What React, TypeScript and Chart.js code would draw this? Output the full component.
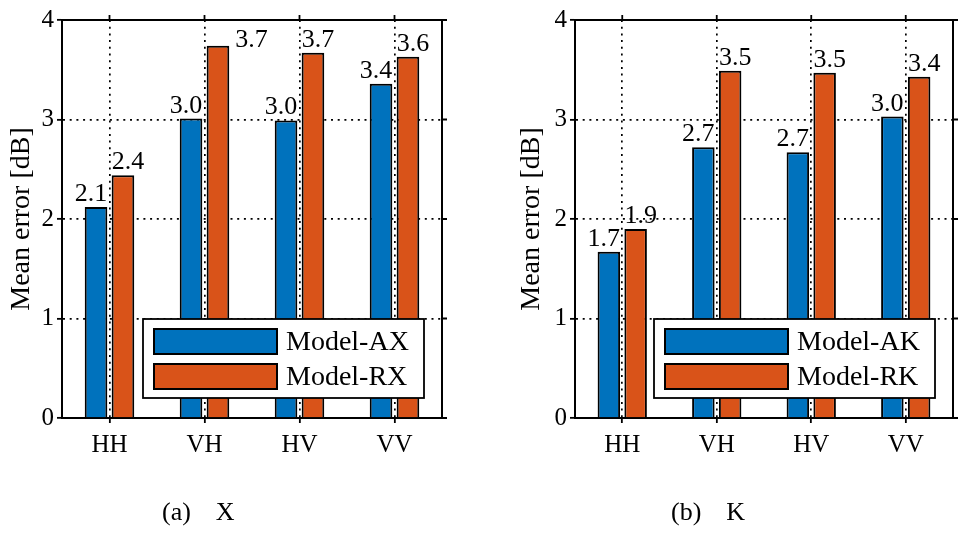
import React, { useEffect, useRef } from "react";
import { Chart, registerables } from "chart.js";

Chart.register(...registerables);

// ---------- data ----------
const categories = ["HH", "VH", "HV", "VV"];
const seriesAX = [2.12, 3.01, 2.99, 3.36];
const seriesRX = [2.44, 3.74, 3.67, 3.63];
const seriesAK = [1.67, 2.72, 2.67, 3.03];
const seriesRK = [1.9, 3.49, 3.47, 3.43];
const namesX = ["Model-AX", "Model-RX"];
const namesK = ["Model-AK", "Model-RK"];
const yTicks = [0, 1, 2, 3, 4];
const yTitle = "Mean error [dB]";
const captionsA = ["(a)", "X"];
const captionsB = ["(b)", "K"];

// ---------- style ----------
const FONT = "'Liberation Serif', 'Times New Roman', serif";
const BLUE = "#0072BD";
const ORANGE = "#D95319";
const TICK_SIZE = 25;
const LABEL_SIZE = 26;
const LEGEND_SIZE = 28;
const TITLE_SIZE = 28;

const decorPlugin = {
  id: "panelDecor",
  afterDatasetsDraw(chart: any) {
    const ctx = chart.ctx;
    const area = chart.chartArea;
    ctx.save();
    ctx.font = `${LABEL_SIZE}px ${FONT}`;
    ctx.fillStyle = "#000";
    ctx.textBaseline = "alphabetic";
    chart.data.datasets.forEach((ds: any, di: number) => {
      const meta = chart.getDatasetMeta(di);
      meta.data.forEach((el: any, i: number) => {
        const v = ds.data[i] as number;
        const text = v.toFixed(1);
        const half = el.width / 2;
        let x: number;
        let y = el.y - 6;
        if (di === 0) {
          ctx.textAlign = "right";
          x = el.x + half;
        } else {
          ctx.textAlign = "left";
          x = el.x - half;
        }
        if (y - LABEL_SIZE * 0.7 < area.top + 4) {
          ctx.textAlign = "left";
          x = el.x + half + 6;
          y = el.y + 1;
        }
        ctx.fillText(text, x, y);
      });
    });
    ctx.restore();
  },
  afterDraw(chart: any) {
    const ctx = chart.ctx;
    const area = chart.chartArea;
    const xs = chart.scales.x;
    const ys = chart.scales.y;
    ctx.save();
    ctx.strokeStyle = "#000";
    ctx.lineWidth = 2;
    ctx.setLineDash([]);
    // top and right frame
    ctx.beginPath();
    ctx.moveTo(area.left, area.top);
    ctx.lineTo(area.right, area.top);
    ctx.lineTo(area.right, area.bottom);
    ctx.stroke();
    // top ticks
    ctx.lineWidth = 1.8;
    ctx.beginPath();
    for (let i = 0; i < chart.data.labels.length; i++) {
      const px = xs.getPixelForValue(i);
      ctx.moveTo(px, area.top);
      ctx.lineTo(px, area.top - 5);
    }
    // right ticks
    yTicks.forEach((v) => {
      const py = ys.getPixelForValue(v);
      ctx.moveTo(area.right, py);
      ctx.lineTo(area.right + 5, py);
    });
    ctx.stroke();

    // legend
    const bw = 281;
    const bh = 79;
    const bx = area.right - 18 - bw;
    const by = area.bottom - 20 - bh;
    ctx.fillStyle = "#fff";
    ctx.fillRect(bx, by, bw, bh);
    ctx.lineWidth = 1.8;
    ctx.strokeRect(bx, by, bw, bh);
    ctx.font = `${LEGEND_SIZE}px ${FONT}`;
    ctx.textBaseline = "middle";
    ctx.textAlign = "left";
    chart.data.datasets.forEach((ds: any, di: number) => {
      const sy = by + 10 + di * 35;
      ctx.fillStyle = ds.backgroundColor;
      ctx.fillRect(bx + 11, sy, 123, 25);
      ctx.lineWidth = 2;
      ctx.strokeStyle = "#000";
      ctx.strokeRect(bx + 11, sy, 123, 25);
      ctx.fillStyle = "#000";
      ctx.fillText(ds.label, bx + 143, sy + 13.5);
    });
    ctx.restore();
  },
};

function makeConfig(a: number[], b: number[], names: string[], padLeft: number, padRight: number, titlePad: number): any {
  return {
    type: "bar",
    data: {
      labels: categories,
      datasets: [
        { label: names[0], data: a, backgroundColor: BLUE, borderColor: "#000", borderWidth: 2 },
        { label: names[1], data: b, backgroundColor: ORANGE, borderColor: "#000", borderWidth: 2 },
      ],
    },
    options: {
      responsive: false,
      animation: false,
      layout: { padding: { left: padLeft, right: padRight, top: 20, bottom: 0 } },
      datasets: { bar: { categoryPercentage: 0.567, barPercentage: 0.84 } },
      plugins: { legend: { display: false }, tooltip: { enabled: false }, title: { display: false } },
      scales: {
        x: {
          offset: true,
          grid: {
            offset: false,
            color: "#000",
            lineWidth: 1.7,
            drawTicks: true,
            tickLength: 5,
            tickColor: "#000",
            tickWidth: 1.8,
            tickBorderDash: [],
          },
          border: { display: true, color: "#000", width: 2, dash: [2, 4.7] },
          ticks: { color: "#000", font: { family: FONT, size: TICK_SIZE }, padding: 7, maxRotation: 0 },
          afterFit(scale: any) {
            scale.height = 539 - 418;
          },
        },
        y: {
          min: 0,
          max: 4,
          afterBuildTicks(scale: any) {
            scale.ticks = yTicks.map((v) => ({ value: v }));
          },
          grid: {
            color: "#000",
            lineWidth: 1.7,
            drawTicks: true,
            tickLength: 5,
            tickColor: "#000",
            tickWidth: 1.8,
            tickBorderDash: [],
          },
          border: { display: true, color: "#000", width: 2, dash: [2, 4.7] },
          ticks: {
            color: "#000",
            font: { family: FONT, size: TICK_SIZE },
            padding: 3,
            callback: (v: any) => String(v),
          },
          title: {
            display: true,
            text: yTitle,
            color: "#000",
            font: { family: FONT, size: TITLE_SIZE },
            padding: { top: titlePad, bottom: 0 },
          },
          afterFit(scale: any) {
            scale.width = 62;
          },
        },
      },
    },
    plugins: [decorPlugin],
  };
}

function Panel(props: { a: number[]; b: number[]; names: string[]; left: number; padLeft: number; padRight: number; titlePad: number }) {
  const ref = useRef<HTMLCanvasElement>(null);
  useEffect(() => {
    if (!ref.current) return;
    const chart = new Chart(ref.current, makeConfig(props.a, props.b, props.names, props.padLeft, props.padRight, props.titlePad));
    return () => chart.destroy();
  }, []);
  return (
    <canvas
      ref={ref}
      width={484}
      height={539}
      style={{ position: "absolute", left: props.left, top: 0, width: 484, height: 539 }}
    />
  );
}

function Caption(props: { parts: string[]; left: number }) {
  return (
    <div
      style={{
        position: "absolute",
        left: props.left,
        top: 499,
        fontFamily: FONT,
        fontSize: 26,
        lineHeight: "26px",
        color: "#000",
        whiteSpace: "nowrap",
      }}
    >
      <span>{props.parts[0]}</span>
      <span style={{ marginLeft: 25 }}>{props.parts[1]}</span>
    </div>
  );
}

export default function App() {
  return (
    <div style={{ position: "fixed", left: 0, top: 0, width: 968, height: 539, background: "#fff", overflow: "hidden" }}>
      <Panel a={seriesAX} b={seriesRX} names={namesX} left={0} padLeft={0} padRight={42} titlePad={5} />
      <Panel a={seriesAK} b={seriesRK} names={namesK} left={484} padLeft={29} padRight={15} titlePad={2} />
      <Caption parts={captionsA} left={162} />
      <Caption parts={captionsB} left={671} />
    </div>
  );
}
